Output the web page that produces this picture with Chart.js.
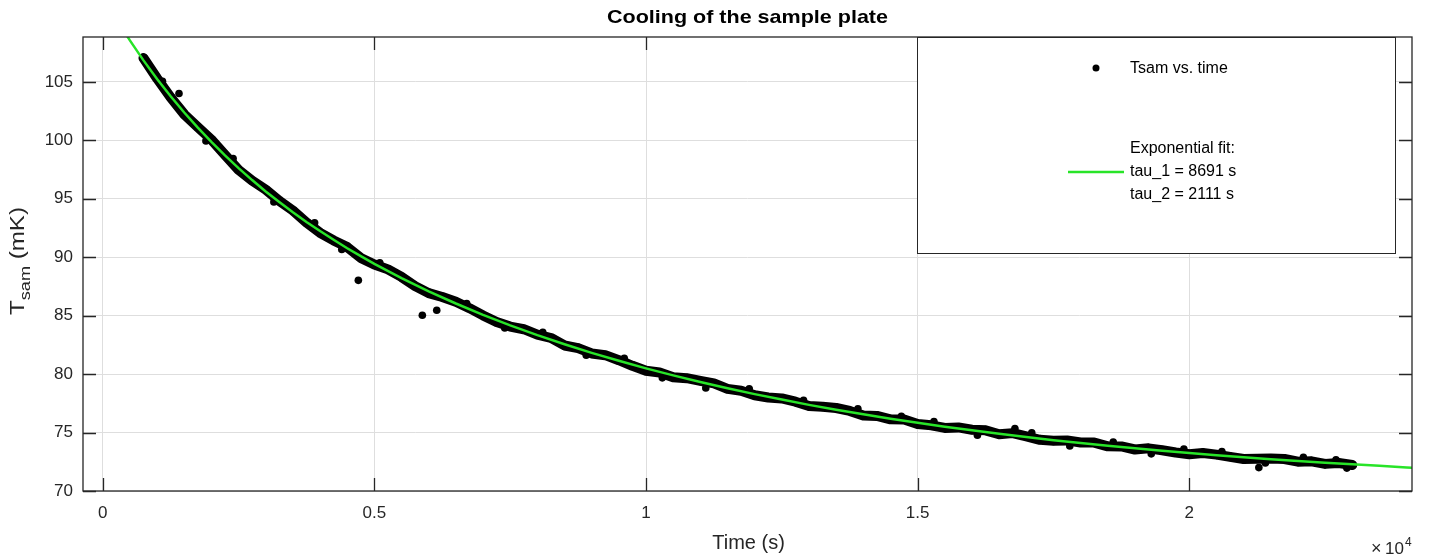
<!DOCTYPE html>
<html>
<head>
<meta charset="utf-8">
<script src="https://cdn.jsdelivr.net/npm/chart.js@4/dist/chart.umd.min.js"></script>
<style>
  html, body { margin: 0; padding: 0; background: #fff; }
  #wrap { width: 1429px; height: 559px; }
</style>
</head>
<body>
<div id="wrap"><canvas id="cooling" width="1429" height="559"></canvas></div>
<script>
// measured sample temperature (s, mK)
const timeData = [750, 1000, 1250, 1500, 1750, 2000, 2250, 2500, 2750, 3000,
  3250, 3500, 3750, 4000, 4250, 4500, 4750, 5000, 5250, 5500,
  5750, 6000, 6250, 6500, 6750, 7000, 7250, 7500, 7750, 8000,
  8250, 8500, 8750, 9000, 9250, 9500, 9750, 10000, 10250, 10500,
  10750, 11000, 11250, 11500, 11750, 12000, 12250, 12500, 12750, 13000,
  13250, 13500, 13750, 14000, 14250, 14500, 14750, 15000, 15250, 15500,
  15750, 16000, 16250, 16500, 16750, 17000, 17250, 17500, 17750, 18000,
  18250, 18500, 18750, 19000, 19250, 19500, 19750, 20000, 20250, 20500,
  20750, 21000, 21250, 21500, 21750, 22000, 22250, 22500, 22750, 23000];
const tsamData = [107.04, 105.30, 103.67, 102.23, 101.13, 100.06, 98.76, 97.47, 96.55, 95.78,
  94.82, 94.00, 92.97, 92.09, 91.44, 90.87, 89.94, 89.38, 88.96, 88.31,
  87.53, 86.93, 86.60, 86.19, 85.64, 85.02, 84.46, 84.07, 83.84, 83.38,
  83.09, 82.45, 82.23, 81.77, 81.62, 81.19, 80.71, 80.29, 80.14, 79.74,
  79.65, 79.42, 79.20, 78.74, 78.58, 78.19, 78.00, 77.92, 77.64, 77.27,
  77.21, 77.10, 76.85, 76.46, 76.42, 76.13, 76.11, 75.73, 75.62, 75.40,
  75.44, 75.24, 75.19, 74.85, 74.95, 74.67, 74.38, 74.30, 74.33, 74.15,
  74.14, 73.82, 73.81, 73.55, 73.65, 73.49, 73.29, 73.15, 73.25, 73.11,
  72.92, 72.74, 72.75, 72.77, 72.74, 72.51, 72.54, 72.32, 72.40, 72.23];

// single readings sticking out of the band
const strayTime = [1100, 1404, 1900, 2400, 3150, 3900, 4400, 4705, 5100, 5883,
  6148, 6700, 7400, 8100, 8900, 9600, 10300, 11100, 11900, 12900,
  13900, 14700, 15300, 16100, 16790, 17100, 17800, 18600, 19300, 19900,
  20600, 21280, 21400, 22100, 22700, 22900];
const strayTsam = [105.05, 104.0, 99.95, 98.45, 94.73, 92.95, 90.66, 88.02, 89.53, 85.03,
  85.46, 86.04, 83.95, 83.57, 81.61, 81.36, 79.68, 78.81, 78.74, 77.76,
  77.04, 76.39, 75.94, 74.78, 75.35, 74.97, 73.85, 74.18, 73.18, 73.59,
  73.38, 72.0, 72.40, 72.88, 72.66, 71.96];

// exponential fit curve
const fitTime = [250, 500, 750, 1000, 1250, 1500, 1750, 2000, 2250, 2500,
  2750, 3000, 3250, 3500, 3750, 4000, 4250, 4500, 4750, 5000,
  5500, 6000, 6500, 7000, 7500, 8000, 8500, 9000, 9500, 10000,
  10500, 11000, 11500, 12000, 12500, 13000, 13500, 14000, 14500, 15000,
  15500, 16000, 16500, 17000, 17500, 18000, 18500, 19000, 19500, 20000,
  20500, 21000, 21500, 22000, 22500, 23000, 23500, 24000, 24500];
const fitTsam = [110.39, 108.55, 106.84, 105.25, 103.77, 102.38, 101.08, 99.86, 98.71, 97.62,
  96.60, 95.63, 94.72, 93.85, 93.02, 92.24, 91.49, 90.77, 90.09, 89.43,
  88.21, 87.08, 86.04, 85.07, 84.17, 83.33, 82.55, 81.82, 81.14, 80.49,
  79.89, 79.32, 78.79, 78.29, 77.82, 77.37, 76.95, 76.56, 76.18, 75.83,
  75.50, 75.19, 74.90, 74.62, 74.35, 74.10, 73.87, 73.65, 73.44, 73.25,
  73.06, 72.89, 72.72, 72.56, 72.42, 72.28, 72.15, 72.02, 71.91];

const xTickValues = [0, 5000, 10000, 15000, 20000];
const xTickLabels = ['0', '0.5', '1', '1.5', '2'];
const yTickValues = [70, 75, 80, 85, 90, 95, 100, 105];
const fitLabel = ['Exponential fit:', 'tau_1 = 8691 s', 'tau_2 = 2111 s'];

const FONT = '"Liberation Sans", Arial, Helvetica, sans-serif';
const AXIS = '#262626';
const GREEN = 'rgb(40, 228, 40)';

const toPoints = (xs, ys) => xs.map((v, i) => ({ x: v, y: ys[i] }));

// axes box, inner ticks and the legend box, MATLAB style
const matlabLook = {
    id: 'matlabLook',
    afterDatasetsDraw(chart) {
        const { ctx, chartArea: a, scales: { x, y } } = chart;
        ctx.save();
        ctx.strokeStyle = AXIS;
        ctx.lineWidth = 1.3;
        ctx.strokeRect(a.left, a.top, a.right - a.left, a.bottom - a.top);
        ctx.beginPath();
        x.ticks.forEach(t => {
            const px = Math.round(x.getPixelForValue(t.value)) + 0.5;
            ctx.moveTo(px, a.bottom); ctx.lineTo(px, a.bottom - 13);
            ctx.moveTo(px, a.top); ctx.lineTo(px, a.top + 13);
        });
        y.ticks.forEach(t => {
            const py = Math.round(y.getPixelForValue(t.value)) + 0.5;
            ctx.moveTo(a.left, py); ctx.lineTo(a.left + 13, py);
            ctx.moveTo(a.right, py); ctx.lineTo(a.right - 13, py);
        });
        ctx.stroke();

        // legend
        const lx = 917, ly = a.top, lw = 478, lh = 216;
        ctx.fillStyle = '#fff';
        ctx.fillRect(lx, ly, lw, lh);
        ctx.lineWidth = 1;
        ctx.strokeStyle = AXIS;
        ctx.strokeRect(lx + 0.5, ly + 0.5, lw, lh);

        ctx.fillStyle = '#000';
        ctx.beginPath();
        ctx.arc(1096, 68, 3.5, 0, Math.PI * 2);
        ctx.fill();

        ctx.strokeStyle = GREEN;
        ctx.lineWidth = 2.5;
        ctx.beginPath();
        ctx.moveTo(1068, 172); ctx.lineTo(1124, 172);
        ctx.stroke();

        ctx.fillStyle = '#000';
        ctx.font = '16px ' + FONT;
        ctx.textBaseline = 'middle';
        ctx.textAlign = 'left';
        ctx.fillText(chart.data.datasets[1].label, 1130, 69);
        fitLabel.forEach((s, i) => ctx.fillText(s, 1130, 149 + i * 23));
        ctx.restore();
    },
    afterDraw(chart) {
        const { ctx, chartArea: a } = chart;
        const cx = (a.left + a.right) / 2;
        ctx.save();
        ctx.fillStyle = '#000';
        ctx.textBaseline = 'middle';
        ctx.textAlign = 'center';

        // title
        ctx.font = 'bold 19px ' + FONT;
        const title = 'Cooling of the sample plate';
        const tw = ctx.measureText(title).width;
        ctx.save();
        ctx.translate(cx, 18);
        ctx.scale(281 / tw, 1);
        ctx.fillText(title, 0, 0);
        ctx.restore();

        // x label
        ctx.fillStyle = AXIS;
        ctx.font = '20px ' + FONT;
        ctx.fillText('Time (s)', cx + 1, 543);

        // exponent
        ctx.textAlign = 'left';
        ctx.textBaseline = 'alphabetic';
        ctx.font = '18px ' + FONT;
        ctx.fillText('\u00d7', 1371, 554);
        ctx.font = '17px ' + FONT;
        ctx.fillText('10', 1385, 554);
        ctx.font = '12px ' + FONT;
        ctx.fillText('4', 1405, 546);

        // y label with subscript
        const big = '20px ' + FONT, small = '15px ' + FONT;
        ctx.font = big;
        const wT = ctx.measureText('T').width;
        const wU = ctx.measureText(' (mK)').width;
        ctx.font = small;
        const wS = ctx.measureText('sam').width;
        const stretch = 108 / (wT + wS + wU);
        ctx.translate(24, 315);
        ctx.rotate(-Math.PI / 2);
        ctx.scale(stretch, 1);
        ctx.font = big;
        ctx.fillText('T', 0, 0);
        ctx.font = small;
        ctx.fillText('sam', wT, 6);
        ctx.font = big;
        ctx.fillText(' (mK)', wT + wS, 0);
        ctx.restore();
    }
};

new Chart(document.getElementById('cooling'), {
    type: 'scatter',
    data: {
        datasets: [
            {
                label: 'Exponential fit',
                data: toPoints(fitTime, fitTsam),
                showLine: true,
                borderColor: GREEN,
                borderWidth: 2.5,
                pointRadius: 0,
                tension: 0
            },
            {
                label: 'Tsam vs. time',
                data: toPoints(timeData, tsamData),
                showLine: true,
                borderColor: '#000',
                borderWidth: 10,
                borderJoinStyle: 'round',
                borderCapStyle: 'round',
                backgroundColor: '#000',
                pointRadius: 4.5,
                pointBorderWidth: 0,
                tension: 0
            },
            {
                label: 'stray',
                data: toPoints(strayTime, strayTsam),
                backgroundColor: '#000',
                pointRadius: 3.8,
                pointBorderWidth: 0
            }
        ]
    },
    options: {
        responsive: false,
        animation: false,
        devicePixelRatio: 1,
        layout: { padding: { top: 37, right: 17, left: 0, bottom: 0 } },
        plugins: {
            legend: { display: false },
            tooltip: { enabled: false },
            title: { display: false }
        },
        scales: {
            x: {
                type: 'linear',
                bounds: 'data',
                min: -363,
                max: 24099,
                afterFit: s => { s.height = 68; },
                afterBuildTicks: s => { s.ticks = xTickValues.map(v => ({ value: v })); },
                border: { display: false },
                grid: { color: '#dedede', drawTicks: false, lineWidth: 1 },
                ticks: {
                    autoSkip: false,
                    maxRotation: 0,
                    padding: 12,
                    color: AXIS,
                    font: { size: 17, family: FONT },
                    callback: (v) => xTickLabels[xTickValues.indexOf(v)] ?? ''
                }
            },
            y: {
                bounds: 'data',
                min: 70,
                max: 108.84,
                afterFit: s => { s.width = 83; },
                afterBuildTicks: s => { s.ticks = yTickValues.map(v => ({ value: v })); },
                border: { display: false },
                grid: { color: '#dedede', drawTicks: false, lineWidth: 1 },
                ticks: {
                    autoSkip: false,
                    padding: 10,
                    color: AXIS,
                    font: { size: 17, family: FONT }
                }
            }
        }
    },
    plugins: [matlabLook]
});
</script>
</body>
</html>
